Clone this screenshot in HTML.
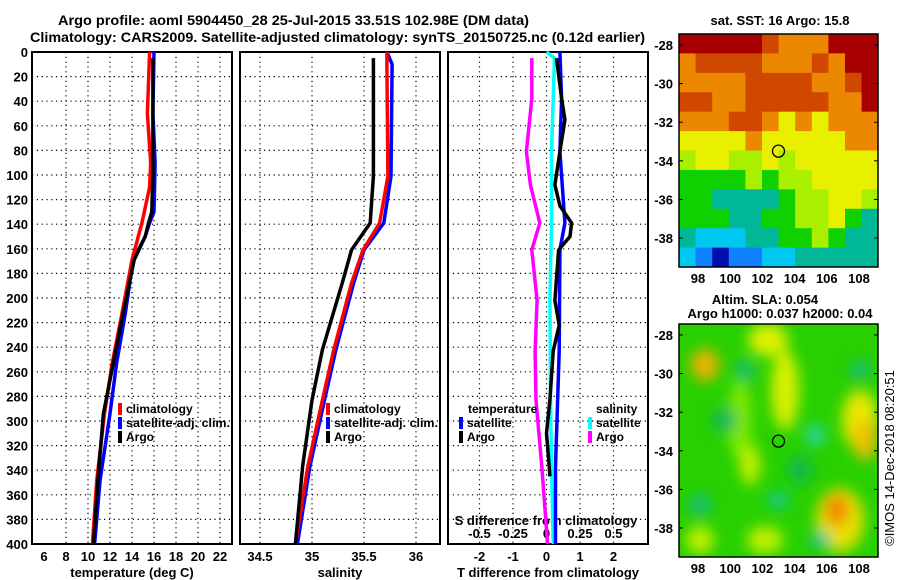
<!DOCTYPE html>
<html><head><meta charset="utf-8"><style>
body{margin:0;background:#fff}
svg{display:block;font-family:"Liberation Sans",Arial,sans-serif;font-weight:bold}
</style></head><body>
<svg id="c" width="900" height="580" viewBox="0 0 900 580">
<defs>
<filter id="bl" x="-50%" y="-50%" width="200%" height="200%"><feGaussianBlur stdDeviation="7"/></filter>
<clipPath id="clipB"><rect x="679" y="324" width="199" height="233"/></clipPath>
<clipPath id="clipT"><rect x="679" y="34" width="199" height="233"/></clipPath>
</defs>
<g font-size="14" text-anchor="start" fill="#000">
<text x="58" y="25" textLength="471" lengthAdjust="spacingAndGlyphs">Argo profile: aoml 5904450_28 25-Jul-2015 33.51S 102.98E (DM data)</text>
<text x="30" y="42" textLength="615" lengthAdjust="spacingAndGlyphs">Climatology: CARS2009. Satellite-adjusted climatology: synTS_20150725.nc (0.12d earlier)</text>
</g>
</svg>
<script>
// ---- data ----
const depthsTclim=[0,50,90,110,139,169,212,253,294,348,400];
const tempClim=[15.6,15.4,15.7,15.6,14.9,14.0,13.1,12.2,11.5,10.8,10.4];
const depthsTsat=[0,50,90,130,139,150,169,212,253,294,348,400];
const tempSat=[16.0,15.9,16.1,16.0,15.6,15.2,14.1,13.4,12.6,12.0,11.1,10.6];
const depthsTargo=[5,50,100,130,139,150,169,212,253,294,348,400];
const tempArgo=[15.9,15.9,15.9,15.8,15.5,15.2,14.2,13.2,12.3,11.4,10.9,10.5];
const depthsS=[0,10,101,139,161,188,242,283,337,400];
const salClim=[35.72,35.72,35.73,35.65,35.49,35.38,35.21,35.10,34.96,34.84];
const salSat=[35.72,35.77,35.76,35.69,35.50,35.40,35.23,35.12,34.98,34.86];
const depthsSargo=[5,101,139,161,188,242,283,337,400];
const salArgo=[35.59,35.59,35.56,35.38,35.29,35.10,35.00,34.91,34.84];
const dDepthA=[5,38,81,108,139,161,202,243,283,337,400];
const sDiffArgo=[-0.11,-0.11,-0.15,-0.12,-0.05,-0.11,-0.07,-0.085,-0.078,-0.035,0.008];
const dDepthS=[0,5,38,81,139,202,283,337,400];
const sDiffSat=[0,0.06,0.05,0.037,0.037,0.025,0.03,0.037,0.05];
const dDepthT=[0,38,81,139,161,243,337,400];
const tDiffSat=[0.4,0.45,0.4,0.55,0.4,0.38,0.27,0.27];
const dDepthTa=[5,38,55,81,108,125,139,150,161,202,222,243,283,310,337,345];
const tDiffArgo=[0.3,0.45,0.55,0.4,0.25,0.4,0.75,0.7,0.36,0.25,0.38,0.2,0.1,0.0,0.08,0.1];
const depthTicks=[0,20,40,60,80,100,120,140,160,180,200,220,240,260,280,300,320,340,360,380,400];
const tempTicks=[6,8,10,12,14,16,18,20,22];
const salTicks=[34.5,35,35.5,36];
const tdTicks=[-2,-1,0,1,2];
const sdTicks=[-0.5,-0.25,0,0.25,0.5];
const sdLabels=["-0.5","-0.25","0","0.25","0.5"];
const lonTicks=[98,100,102,104,106,108];
const latTicks=[-28,-30,-32,-34,-36,-38];
const sstRows=["DDDDDROOODDD","ORRRROOOROD D","OOOORRRROORD","RROORRRRROOD","OOORROYOYOOO","YYYYOYYYYYOO","LYYLLYLYYYYY","GGGGLGLLYYYY","GGTTTTGLLYYL","GGGTTGGLLYGT","TCCCTTGGLGTT","CBNBBCCTTTTT"];
// ---- helpers ----
const S=document.getElementById('c');const NS='http://www.w3.org/2000/svg';
function el(t,a,p){const e=document.createElementNS(NS,t);for(const k in a)e.setAttribute(k,a[k]);(p||S).appendChild(e);return e;}
const Y0=52,Y1=544;const yD=d=>Y0+d*(Y1-Y0)/400;
const xT=t=>44+(t-6)*11;const xS=s=>312+(s-35)*104;
const xTD=u=>546.5+u*33.5;const xSD=s=>546.5+s*134;
const panels=[[32,232],[240,440],[448,648]];
panels.forEach((p,i)=>{
 const g=el('g',{});
 
 depthTicks.forEach(d=>{if(d>0&&d<400){const l=el('line',{x1:p[0],x2:p[1],y1:yD(d),y2:yD(d),stroke:'#000','stroke-width':1.2,'stroke-dasharray':'1.2 3.6'},g);}});
 const vx=i==0?tempTicks.slice(1).map(xT):i==1?salTicks.map(xS):tdTicks.map(xTD);
 vx.forEach(x=>{const l=el('line',{x1:x,x2:x,y1:Y0,y2:Y1,stroke:'#000','stroke-width':1.2,'stroke-dasharray':'1.2 3.6'},g);});
 const r=el('rect',{x:p[0],y:Y0,width:p[1]-p[0],height:Y1-Y0,fill:'none',stroke:'#000','stroke-width':2},g);
 
});
depthTicks.forEach(d=>{const t=el('text',{x:28,y:yD(d)+5,'text-anchor':'end','font-size':13});t.textContent=d;
});
function xl(arr,f,y,labels){arr.forEach((v,i)=>{const t=el('text',{x:f(v),y:y,'text-anchor':'middle','font-size':13});t.textContent=labels?labels[i]:v;
});}
xl(tempTicks,xT,561);xl(salTicks,xS,561);xl(tdTicks,xTD,561);xl(sdTicks,xSD,538,sdLabels);
function tx(s,x,y,a,sz,name,fill){const t=el('text',{x:x,y:y,'text-anchor':a||'middle','font-size':sz||13,fill:fill||'#000'});t.textContent=s;
return t;}
tx('temperature (deg C)',132,577,'middle',13,'x-axis-title-temperature');
tx('salinity',340,577,'middle',13,'x-axis-title-salinity');
tx('T difference from climatology',548,577,'middle',13,'x-axis-title-t-diff');
tx('S difference from climatology',546,525,'middle',13,'x-axis-title-s-diff');
function line(ds,vs,f,col,name){const pts=ds.map((d,i)=>f(vs[i]).toFixed(1)+','+yD(d).toFixed(1)).join(' ');
const l=el('polyline',{points:pts,fill:'none',stroke:col,'stroke-width':3.5,'stroke-linejoin':'round'});
}
line(depthsTsat,tempSat,xT,'#0000ff','temp-satellite-line');
line(depthsTclim,tempClim,xT,'#ff0000','temp-climatology-line');
line(depthsTargo,tempArgo,xT,'#000','temp-argo-line');
line(depthsS,salSat,xS,'#0000ff','sal-satellite-line');
line(depthsS,salClim,xS,'#ff0000','sal-climatology-line');
line(depthsSargo,salArgo,xS,'#000','sal-argo-line');
line(dDepthA,sDiffArgo,xSD,'#ff00ff','s-diff-argo-line');
line(dDepthS,sDiffSat,xSD,'#00ffff','s-diff-satellite-line');
line(dDepthT,tDiffSat,xTD,'#0000ff','t-diff-satellite-line');
line(dDepthTa,tDiffArgo,xTD,'#000','t-diff-argo-line');
function leg(x,y,col,s,name,len){const r=el('rect',{x:x,y:y-10,width:4,height:12,fill:col});
const t=tx(s,x+8,y,'start',12,name);if(len){t.setAttribute('textLength',len);t.setAttribute('lengthAdjust','spacingAndGlyphs');}}
[[118,'climatology-legend'],[326,'salinity-legend']].forEach(([x,n])=>{
leg(x,413,'#ff0000','climatology',n+'-climatology');leg(x,427,'#0000ff','satellite-adj. clim.',n+'-satellite',104);leg(x,441,'#000','Argo',n+'-argo');});
tx('temperature',468,413,'start',12,'legend-temperature-header');
leg(459,427,'#0000ff','satellite','legend-t-satellite');leg(459,441,'#000','Argo','legend-t-argo');
tx('salinity',596,413,'start',12,'legend-salinity-header');
leg(588,427,'#00ffff','satellite','legend-s-satellite');leg(588,441,'#ff00ff','Argo','legend-s-argo');
// ---- maps ----
const lonX=l=>698+(l-98)*16.1;
const cols={D:'#a80000',R:'#d04800',O:'#ec8800',Y:'#e8f000',L:'#a8f000',G:'#10d000',T:'#00b898',C:'#00c8f0',B:'#1080ff',N:'#0010b0'};
const gT=el('g',{'clip-path':'url(#clipT)'});
sstRows.forEach((row,ri)=>{row.replace(/ /g,'').split('').forEach((c,ci)=>{el('rect',{x:679+ci*16.6,y:34+ri*19.42,width:17.2,height:20,fill:cols[c]},gT);});});
const gB=el('g',{'clip-path':'url(#clipB)'});
el('rect',{x:679,y:324,width:199,height:233,fill:'#28d000'},gB);
const fb=el('g',{filter:'url(#bl)'},gB);
const blobs=[[705,365,14,16,'#f0b000'],[768,340,20,16,'#e0f000'],[785,390,14,40,'#d8f000'],[740,420,12,40,'#80e800'],[860,420,18,30,'#e8e800'],[865,440,12,20,'#f0c000'],[840,520,24,32,'#e8e000'],[837,510,12,16,'#f08800'],[765,540,18,14,'#c0f000'],[700,540,14,14,'#c0f000'],[750,465,10,20,'#c8f000'],[815,435,8,10,'#20d8d0'],[778,500,10,8,'#10c8a0'],[745,370,8,10,'#10b890'],[820,540,10,8,'#10c0a0'],[700,505,10,10,'#10b890'],[860,370,10,8,'#10b890'],[725,420,12,12,'#10b860'],[800,470,12,14,'#10b850']];
blobs.forEach(b=>el('ellipse',{cx:b[0],cy:b[1],rx:b[2],ry:b[3],fill:b[4]},fb));
function mapFrame(top,lat28,name){
 const r=el('rect',{x:679,y:top,width:199,height:233,fill:'none',stroke:'#000','stroke-width':1.5});
 const c=el('circle',{cx:lonX(103),cy:lat28+5.5*19.3,r:6,fill:'none',stroke:'#000','stroke-width':1.3});
 latTicks.forEach(l=>{const y=lat28+(-28-l)*19.3;tx(String(l),673,y+5,'end',13,'lat-tick-label');
 el('line',{x1:679,x2:683,y1:y,y2:y,stroke:'#000'});el('line',{x1:874,x2:878,y1:y,y2:y,stroke:'#000'});});
 lonTicks.forEach(l=>{tx(String(l),lonX(l),top+233+16,'middle',13,'lon-tick-label');});
}
mapFrame(34,45,'sst-map');mapFrame(324,335,'sla-map');
tx('sat. SST: 16 Argo: 15.8',780,25,'middle',13,'sst-map-title');
tx('Altim. SLA: 0.054',765,304,'middle',13,'sla-map-title');
tx('Argo h1000: 0.037 h2000: 0.04',780,318,'middle',13,'sla-argo-heights');
const cr=tx('©IMOS 14-Dec-2018 08:20:51',0,0,'middle',13,'copyright-timestamp');cr.setAttribute('font-weight','normal');
cr.setAttribute('transform','translate(894,458) rotate(-90)');
</script>
</body></html>
